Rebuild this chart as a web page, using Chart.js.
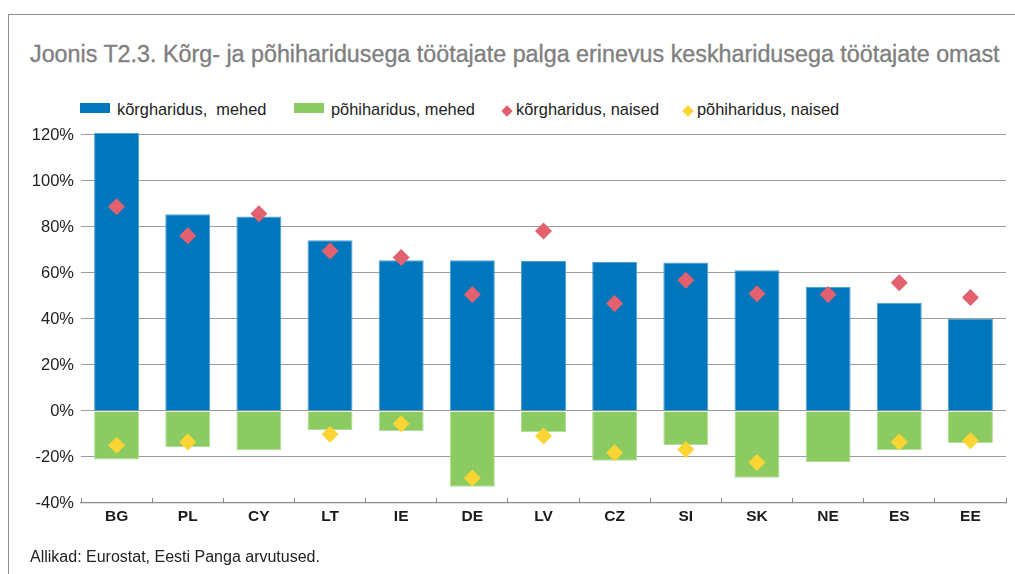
<!DOCTYPE html>
<html lang="et">
<head>
<meta charset="utf-8">
<title>Joonis T2.3</title>
<script src="https://cdn.jsdelivr.net/npm/chart.js@4.4.1/dist/chart.umd.min.js"></script>
<style>
  html, body { margin: 0; padding: 0; background: #fff; }
  body {
    width: 1015px; height: 574px; position: relative; overflow: hidden;
    font-family: "Liberation Sans", Arial, Helvetica, sans-serif; color: #222;
  }
  #frame {
    position: absolute; left: 8px; top: 14px; right: -2px; bottom: -2px;
    border-top: 1px solid #8c8c8c; border-left: 1px solid #8c8c8c;
  }
  #title {
    position: absolute; left: 30px; top: 43px; font-size: 23.3px; line-height: 23px;
    color: #808080; white-space: nowrap; -webkit-text-stroke: 0.35px #808080;
  }
  #source {
    position: absolute; left: 30px; top: 548.5px; font-size: 16px; line-height: 16px;
    color: #222; white-space: nowrap;
  }
  #legend { position: absolute; left: 0; top: 0; }
  .item { position: absolute; top: 101.3px; height: 16px; font-size: 16.4px; line-height: 16px; white-space: pre; }
  .swatch { position: absolute; }
  .label { position: absolute; top: 0; white-space: pre; }
  #wrap { position: absolute; left: 0; top: 0; width: 1015px; height: 574px; }
  canvas { display: block; }
</style>
</head>
<body>
<div id="frame"></div>
<div id="title">Joonis T2.3. Kõrg- ja põhiharidusega töötajate palga erinevus keskharidusega töötajate omast</div>
<div id="legend"></div>
<div id="wrap"><canvas id="chart" width="1015" height="574"></canvas></div>
<div id="source">Allikad: Eurostat, Eesti Panga arvutused.</div>
<script>
// Countries
const categories = ['BG', 'PL', 'CY', 'LT', 'IE', 'DE', 'LV', 'CZ', 'SI', 'SK', 'NE', 'ES', 'EE'];

// Wage gap versus secondary-educated workers, %
const tertiaryMen   = [121, 85.5, 84.6, 74.2, 65.5, 65.5, 65.2, 64.8, 64.6, 61.2, 53.9, 47.1, 40.0];
const basicMen      = [-21.1, -15.6, -17.0, -8.3, -8.7, -32.9, -9.1, -21.6, -14.8, -29.0, -22.3, -17.1, -13.9];
const tertiaryWomen = [88.8, 76.2, 85.8, 69.6, 66.7, 50.7, 78.3, 46.7, 56.8, 51.0, 50.6, 55.8, 49.3];
const basicWomen    = [-14.9, -13.5, null, -10.1, -5.5, -29.1, -10.9, -18.1, -16.7, -22.4, null, -13.5, -12.9];

// Value axis ticks
const yTicks = [-40, -20, 0, 20, 40, 60, 80, 100, 120];

// Series names
const seriesNames = ['kõrgharidus,  mehed', 'põhiharidus, mehed', 'kõrgharidus, naised', 'põhiharidus, naised'];

const BLUE = '#0077bc', GREEN = '#8bcb61', RED = '#e3606f', YELLOW = '#fcd433';

// Legend built from the series definitions
const legendSpec = [
  { name: seriesNames[0], color: BLUE,   kind: 'box',     left: 80 },
  { name: seriesNames[1], color: GREEN,  kind: 'box',     left: 294 },
  { name: seriesNames[2], color: RED,    kind: 'diamond', left: 501 },
  { name: seriesNames[3], color: YELLOW, kind: 'diamond', left: 682 }
];
const legendEl = document.getElementById('legend');
legendSpec.forEach(s => {
  const item = document.createElement('div');
  item.className = 'item';
  item.style.left = s.left + 'px';
  const sw = document.createElement('div');
  sw.className = 'swatch';
  let textLeft;
  if (s.kind === 'box') {
    Object.assign(sw.style, { left: '0px', top: '2.2px', width: '30px', height: '10px', background: s.color });
    textLeft = 37;
  } else {
    sw.innerHTML = '<svg width="12" height="12" viewBox="0 0 12 12"><polygon points="6,0.3 11.7,6 6,11.7 0.3,6" fill="' + s.color + '"/></svg>';
    Object.assign(sw.style, { left: '0px', top: '1.5px', width: '12px', height: '12px' });
    textLeft = 15;
  }
  const lab = document.createElement('span');
  lab.className = 'label';
  lab.style.left = textLeft + 'px';
  lab.textContent = s.name;
  item.appendChild(sw);
  item.appendChild(lab);
  legendEl.appendChild(item);
});

const FONT = '"Liberation Sans", Arial, Helvetica, sans-serif';

new Chart(document.getElementById('chart'), {
  data: {
    labels: categories,
    datasets: [
      {
        type: 'line', label: seriesNames[2], data: tertiaryWomen, order: 0,
        showLine: false, pointStyle: 'rectRot', pointRadius: 8.5, pointHoverRadius: 8.5,
        pointBackgroundColor: RED, pointBorderColor: RED, pointBorderWidth: 0
      },
      {
        type: 'line', label: seriesNames[3], data: basicWomen, order: 0,
        showLine: false, pointStyle: 'rectRot', pointRadius: 8.5, pointHoverRadius: 8.5,
        pointBackgroundColor: YELLOW, pointBorderColor: YELLOW, pointBorderWidth: 0
      },
      {
        type: 'bar', label: seriesNames[0], data: tertiaryMen, order: 1, grouped: false,
        backgroundColor: BLUE, borderColor: '#4f9fd2', borderWidth: 1,
        barPercentage: 0.632, categoryPercentage: 1, clip: 3
      },
      {
        type: 'bar', label: seriesNames[1], data: basicMen, order: 1, grouped: false,
        backgroundColor: GREEN, borderColor: '#b3dc98', borderWidth: 1,
        barPercentage: 0.632, categoryPercentage: 1
      }
    ]
  },
  options: {
    responsive: false,
    animation: false,
    events: [],
    layout: { padding: { left: 0, right: 9, top: 135, bottom: 0 } },
    plugins: { legend: { display: false }, tooltip: { enabled: false }, title: { display: false } },
    scales: {
      x: {
        type: 'category',
        offset: true,
        grid: {
          offset: true, drawOnChartArea: false, drawTicks: true, tickLength: -5,
          color: '#8c8c8c', lineWidth: 1
        },
        border: { display: true, color: '#8c8c8c', width: 1.3 },
        ticks: { color: '#1a1a1a', padding: 9, font: { family: FONT, size: 15.5, weight: 'bold' } },
        afterFit: s => { s.height = 71; }
      },
      y: {
        min: -40, max: 120,
        afterBuildTicks: s => { s.ticks = yTicks.map(v => ({ value: v })); },
        grid: { color: '#9c9c9c', lineWidth: 1.1, drawTicks: false },
        border: { display: false },
        ticks: {
          color: '#222', padding: 7, font: { family: FONT, size: 16.5 },
          callback: v => v + '%'
        },
        afterFit: s => { s.width = 81; }
      }
    }
  }
});
</script>
</body>
</html>
